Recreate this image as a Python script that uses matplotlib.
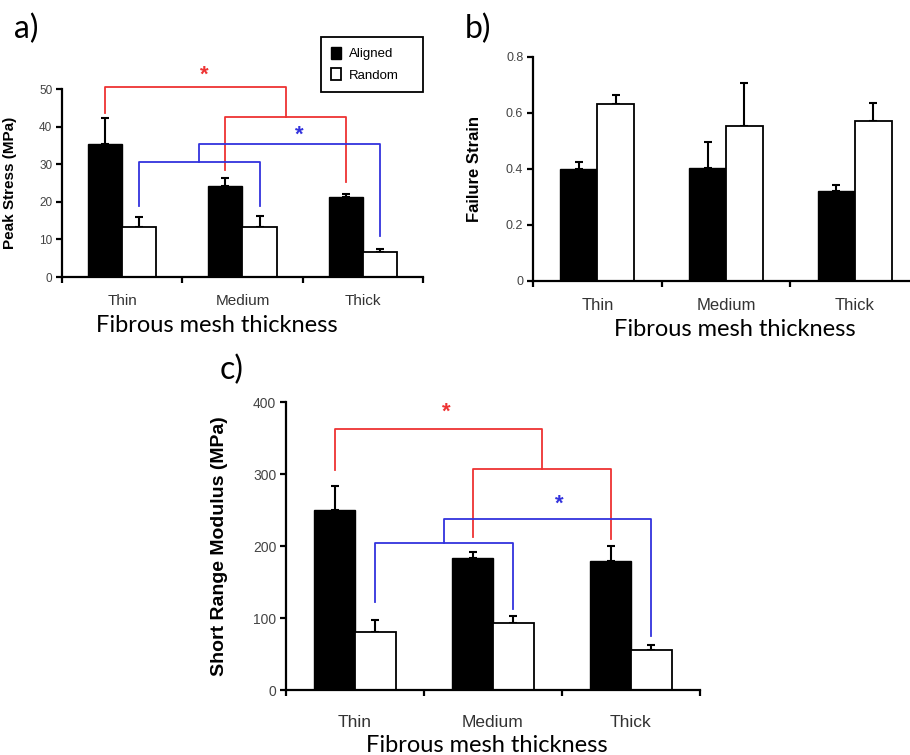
import numpy as np
import matplotlib
matplotlib.use("Agg")
import matplotlib.pyplot as plt
from matplotlib.patches import Patch

categories = ["Thin", "Medium", "Thick"]

# a) peak stress (MPa)
stress_aligned = [35.3, 24.2, 21.2]
stress_aligned_err = [6.9, 2.1, 1.0]
stress_random = [13.4, 13.4, 6.7]
stress_random_err = [2.6, 2.9, 0.7]

# b) failure strain
strain_aligned = [0.40, 0.405, 0.32]
strain_aligned_err = [0.025, 0.092, 0.024]
strain_random = [0.632, 0.555, 0.573]
strain_random_err = [0.031, 0.152, 0.062]

# c) short range modulus (MPa)
modulus_aligned = [250, 183, 179]
modulus_aligned_err = [34, 8, 21]
modulus_random = [81, 93, 56]
modulus_random_err = [16, 10, 7]

# significance brackets: inner pair, lone bar, [inner level, outer level],
# leg bottoms (thin, medium, thick), star height
stress_red = dict(pair=(1, 2), lone=0, levels=[42.5, 50.5], legs=[43.6, 28.5, 25.2], star=53.6)
stress_blue = dict(pair=(0, 1), lone=2, levels=[30.6, 35.5], legs=[19.0, 18.8, 10.8], star=37.6)
modulus_red = dict(pair=(1, 2), lone=0, levels=[307.5, 362.5], legs=[305, 212, 210], star=386)
modulus_blue = dict(pair=(0, 1), lone=2, levels=[203.5, 237], legs=[122.5, 112, 75], star=258)

RED = "#ee3333"
BLUE = "#3333dd"
TICK_GRAY = "#444444"
SANS = ["Liberation Sans", "DejaVu Sans"]
XLAB_FONT = ["Lato", "DejaVu Sans"]

fig = plt.figure(figsize=(9.1, 7.55), dpi=100)


def draw_bars(ax, aligned, aligned_err, random, random_err, width, ymax, yticks,
              ytick_labels, ylabel, ytick_size, ylabel_size, xtick_size, xpad, ylabel_x):
    x = np.arange(len(categories))
    xa, xr = x - width / 2, x + width / 2
    ax.bar(xa, aligned, width, color="black", edgecolor="black", linewidth=1.0, zorder=2)
    ax.bar(xr, random, width, color="white", edgecolor="black", linewidth=1.3, zorder=2)
    ax.errorbar(xa, aligned, yerr=[np.zeros(3), aligned_err], fmt="none", ecolor="black",
                elinewidth=1.5, capsize=3, capthick=1.5, zorder=1)
    ax.errorbar(xr, random, yerr=[np.zeros(3), random_err], fmt="none", ecolor="black",
                elinewidth=1.5, capsize=3, capthick=1.5, zorder=1)
    ax.set_xlim(-0.5, 2.5)
    ax.set_ylim(0, ymax)
    ax.spines[["top", "right"]].set_visible(False)
    for s in ["left", "bottom"]:
        ax.spines[s].set_linewidth(1.6)
    ax.set_yticks(yticks)
    ax.set_yticklabels(ytick_labels, fontsize=ytick_size, color=TICK_GRAY, family=SANS)
    ax.tick_params(axis="y", direction="out", length=4, width=1.6, pad=3)
    ax.set_xticks(x)
    ax.set_xticklabels(categories, fontsize=xtick_size, color="#333333", family=SANS)
    ax.set_xticks([-0.5, 0.5, 1.5, 2.5], minor=True)
    ax.tick_params(axis="x", which="major", length=0, pad=xpad)
    ax.tick_params(axis="x", which="minor", direction="out", length=4, width=1.6)
    ax.set_ylabel(ylabel, fontsize=ylabel_size, fontweight="bold", family=SANS)
    ax.yaxis.set_label_coords(ylabel_x, 0.5)
    return xa, xr


def bracket(ax, xs, spec, color, star_dx):
    # inner bracket joins a pair of bars, outer one joins its middle with the lone bar
    lo, hi = spec["levels"]
    legs = spec["legs"]
    i, j = spec["pair"]
    k = spec["lone"]
    mid = (xs[i] + xs[j]) / 2
    kw = dict(color=color, linewidth=1.3, clip_on=False, zorder=3)
    ax.plot([xs[i], xs[i], xs[j], xs[j]], [legs[i], lo, lo, legs[j]], **kw)
    ax.plot([xs[k], xs[k], mid, mid], [legs[k], hi, hi, lo], **kw)
    ax.text((xs[k] + mid) / 2 + star_dx, spec["star"], "*", color=color, fontsize=16,
            fontweight="bold", ha="center", va="center", family=SANS, clip_on=False)


# panel a
ax_a = fig.add_axes([62 / 910, (755 - 277) / 755, 361 / 910, 188 / 755])
xa, xr = draw_bars(ax_a, stress_aligned, stress_aligned_err, stress_random, stress_random_err,
                   0.283, 50, [0, 10, 20, 30, 40, 50], ["0", "10", "20", "30", "40", "50"],
                   "Peak Stress (MPa)", 8.5, 11, 11, 12, -0.125)
bracket(ax_a, xa, stress_red, RED, 0.07)
bracket(ax_a, xr, stress_blue, BLUE, 0.08)
ax_a.legend(handles=[Patch(facecolor="black", edgecolor="black", label="Aligned"),
                     Patch(facecolor="white", edgecolor="black", linewidth=1.3, label="Random")],
            loc="upper left", mode="expand",
            bbox_to_anchor=(321 / 910, 1 - 93 / 755, 102 / 910, 56 / 755),
            bbox_transform=fig.transFigure,
            fancybox=False, edgecolor="black", framealpha=1, handlelength=0.75, handleheight=1.0,
            handletextpad=0.6, borderpad=0.75, labelspacing=0.6, borderaxespad=0,
            prop={"family": SANS, "size": 9.5})
ax_a.get_legend().get_frame().set_linewidth(1.3)
fig.text(217 / 910, 1 - 325 / 755, "Fibrous mesh thickness", fontsize=17, family=XLAB_FONT,
         ha="center", va="center")
fig.text(14 / 910, 1 - 29 / 755, "a)", fontsize=23, family=XLAB_FONT, va="center")

# panel b
ax_b = fig.add_axes([533 / 910, (755 - 281) / 755, 386 / 910, 224 / 755])
draw_bars(ax_b, strain_aligned, strain_aligned_err, strain_random, strain_random_err,
          0.287, 0.8, [0, 0.2, 0.4, 0.6, 0.8], ["0", "0.2", "0.4", "0.6", "0.8"],
          "Failure Strain", 9, 12, 12, 12, -0.132)
fig.text(735 / 910, 1 - 330 / 755, "Fibrous mesh thickness", fontsize=17, family=XLAB_FONT,
         ha="center", va="center")
fig.text(465 / 910, 1 - 29 / 755, "b)", fontsize=23, family=XLAB_FONT, va="center")

# panel c
ax_c = fig.add_axes([286 / 910, 65 / 755, 414 / 910, 288 / 755])
xa, xr = draw_bars(ax_c, modulus_aligned, modulus_aligned_err, modulus_random, modulus_random_err,
                   0.295, 400, [0, 100, 200, 300, 400], ["0", "100", "200", "300", "400"],
                   "Short Range Modulus (MPa)", 10, 14, 12.5, 18, -0.14)
bracket(ax_c, xa, modulus_red, RED, 0.06)
bracket(ax_c, xr, modulus_blue, BLUE, 0.08)
fig.text(487 / 910, 1 - 745 / 755, "Fibrous mesh thickness", fontsize=17, family=XLAB_FONT,
         ha="center", va="center")
fig.text(220 / 910, 1 - 370 / 755, "c)", fontsize=23, family=XLAB_FONT, va="center")

fig.savefig("out.png", dpi=100)
